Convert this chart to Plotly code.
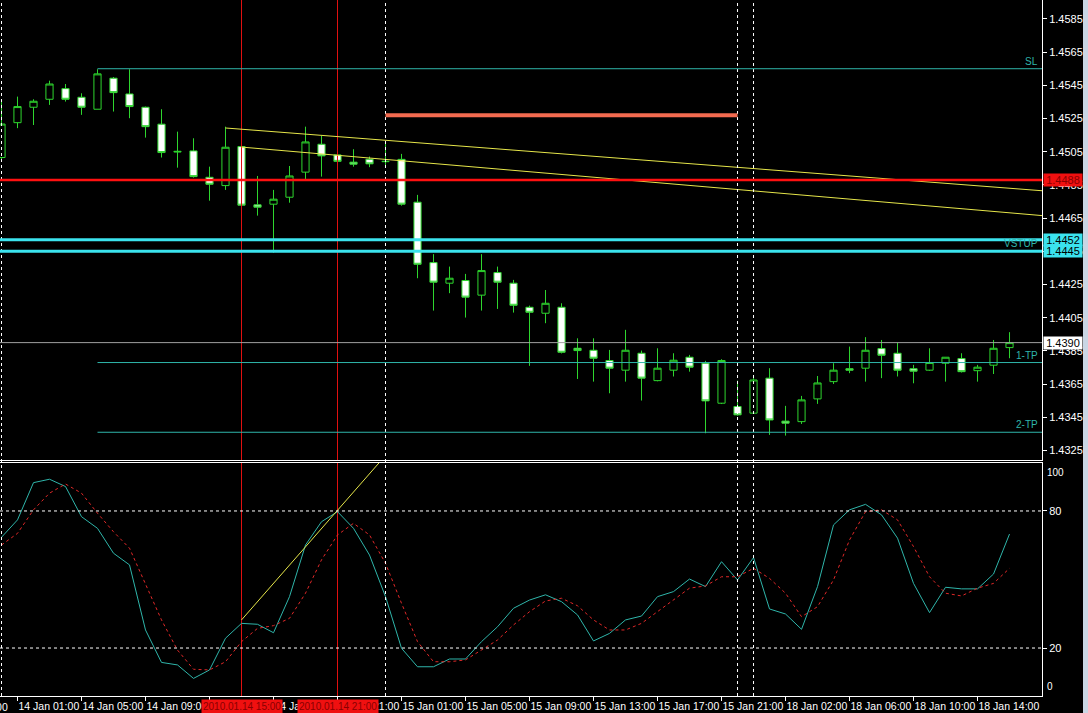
import plotly.graph_objects as go

# ---------------- data ----------------
times = ([f"14 Jan {h:02d}:00" for h in range(24)] +
         [f"15 Jan {h:02d}:00" for h in range(22)] +
         ["17 Jan 23:00"] +
         [f"18 Jan {h:02d}:00" for h in range(17)])

opens = [1.45015, 1.45225, 1.45318, 1.45366, 1.45430, 1.45378, 1.45306, 1.45493, 1.45398, 1.45318,
         1.45216, 1.45048, 1.45055, 1.44896, 1.44846, 1.45081, 1.44730, 1.44734, 1.44776, 1.44927,
         1.45095, 1.45031, 1.44987, 1.45005, 1.44990, 1.45004, 1.44746, 1.44382, 1.44258, 1.44274,
         1.44186, 1.44322, 1.44258, 1.44113, 1.44077, 1.44113, 1.43866, 1.43854, 1.43792, 1.43734,
         1.43836, 1.43671, 1.43734, 1.43812, 1.43776, 1.43535, 1.43515, 1.43475, 1.43686, 1.43427,
         1.43424, 1.43561, 1.43665, 1.43743, 1.43746, 1.43864, 1.43836, 1.43743, 1.43734, 1.43776,
         1.43804, 1.43731, 1.43764, 1.43870]
highs = [1.45362, 1.45382, 1.45366, 1.45478, 1.45458, 1.45402, 1.45547, 1.45500, 1.45547, 1.45322,
         1.45306, 1.45171, 1.45131, 1.44960, 1.45201, 1.45085, 1.44904, 1.44820, 1.44964, 1.45201,
         1.45145, 1.45035, 1.45065, 1.45021, 1.45111, 1.45037, 1.44790, 1.44433, 1.44358, 1.44314,
         1.44433, 1.44358, 1.44278, 1.44123, 1.44217, 1.44137, 1.43926, 1.43926, 1.43856, 1.43977,
         1.43852, 1.43866, 1.43836, 1.43826, 1.43790, 1.43800, 1.43671, 1.43705, 1.43746, 1.43519,
         1.43579, 1.43699, 1.43776, 1.43876, 1.43933, 1.43916, 1.43900, 1.43766, 1.43866, 1.43812,
         1.43836, 1.43766, 1.43916, 1.43963]
lows = [1.45000, 1.45192, 1.45211, 1.45332, 1.45352, 1.45272, 1.45306, 1.45292, 1.45252, 1.45135,
        1.45015, 1.44954, 1.44894, 1.44755, 1.44820, 1.44725, 1.44665, 1.44442, 1.44743, 1.44884,
        1.44900, 1.44990, 1.44960, 1.44957, 1.44970, 1.44725, 1.44288, 1.44093, 1.44198, 1.44051,
        1.44093, 1.44103, 1.44081, 1.43760, 1.44017, 1.43835, 1.43681, 1.43665, 1.43595, 1.43665,
        1.43551, 1.43667, 1.43696, 1.43725, 1.43354, 1.43530, 1.43460, 1.43470, 1.43344, 1.43340,
        1.43410, 1.43531, 1.43651, 1.43716, 1.43665, 1.43686, 1.43696, 1.43655, 1.43730, 1.43665,
        1.43720, 1.43665, 1.43711, 1.43806]
closes = [1.45217, 1.45322, 1.45354, 1.45458, 1.45366, 1.45318, 1.45519, 1.45406, 1.45322, 1.45201,
          1.45045, 1.45052, 1.44900, 1.44854, 1.45077, 1.44728, 1.44716, 1.44764, 1.44904, 1.45109,
          1.45025, 1.44992, 1.44975, 1.44977, 1.44992, 1.44734, 1.44372, 1.44264, 1.44288, 1.44174,
          1.44334, 1.44264, 1.44125, 1.44083, 1.44137, 1.43842, 1.43852, 1.43806, 1.43746, 1.43854,
          1.43686, 1.43746, 1.43794, 1.43752, 1.43549, 1.43792, 1.43465, 1.43675, 1.43434, 1.43415,
          1.43555, 1.43657, 1.43734, 1.43734, 1.43854, 1.43824, 1.43734, 1.43728, 1.43780, 1.43812,
          1.43725, 1.43752, 1.43866, 1.43900]

stoch_main = [68.5, 76.1, 92.4, 93.9, 90.7, 77.5, 72.4, 61.5, 56.4, 27.9,
              13.7, 12.6, 6.7, 10.4, 24.3, 30.8, 30.4, 26.7, 42.5, 65.1,
              75.3, 79.7, 72.4, 60.7, 42.5, 19.9, 11.8, 11.8, 15.2, 15.2,
              22.8, 29.3, 37.4, 41.0, 43.3, 40.3, 34.5, 23.1, 26.4, 32.3,
              34.0, 42.5, 44.7, 50.2, 46.9, 57.8, 49.8, 59.6, 37.1, 34.9,
              28.2, 46.9, 73.9, 80.5, 82.9, 78.3, 68.1, 48.3, 35.5, 46.6,
              45.9, 45.9, 52.4, 69.9]
stoch_signal = [65.1, 70.2, 80.5, 87.8, 91.8, 87.8, 79.0, 70.9, 63.7, 48.3,
                32.3, 19.1, 10.7, 10.4, 14.0, 22.8, 28.6, 29.8, 33.0, 44.0,
                58.6, 69.5, 74.6, 69.5, 57.1, 39.6, 22.8, 14.0, 14.0, 14.8,
                19.1, 23.5, 30.1, 35.9, 40.6, 41.8, 38.5, 32.3, 27.9, 27.9,
                30.8, 35.9, 41.0, 46.2, 47.2, 51.2, 51.2, 54.9, 50.5, 44.0,
                33.7, 38.1, 49.8, 67.3, 79.7, 80.5, 76.1, 64.4, 51.2, 44.0,
                42.8, 46.2, 48.3, 54.9]

price_ticks = [1.4585, 1.4565, 1.4545, 1.4525, 1.4505, 1.4485, 1.4465,
               1.4445, 1.4425, 1.4405, 1.4385, 1.4365, 1.4345, 1.4325]
stoch_levels = [20, 80]

# horizontal objects
sl_price, tp1_price, tp2_price = 1.4555, 1.4378, 1.4336
red_level = 1.4488
cyan_levels = [1.4452, 1.4445]
bid_price = 1.4390
orange_level = 1.4527
orange_span = ["15 Jan 00:00", "17 Jan 23:00"]
level_start = "14 Jan 06:00"
# trendlines (two anchors each, extended as rays)
trend_upper = [("14 Jan 14:00", 1.45193), ("18 Jan 16:00", 1.44830)]
trend_lower = [("14 Jan 15:00", 1.45078), ("18 Jan 16:00", 1.44682)]
stoch_trend = [("14 Jan 15:00", 32.3), ("14 Jan 21:00", 80.3)]
red_vlines = ["14 Jan 15:00", "14 Jan 21:00"]
red_vline_labels = ["2010.01.14 15:00", "2010.01.14 21:00"]
separators = ["14 Jan 00:00", "15 Jan 00:00", "17 Jan 23:00", "18 Jan 00:00"]
prev_label = "13 Jan 21:00"   # label of the bar 3 hours before the first bar (cut off at left)
prev_label_offset = -3        # bars before the first bar

# ---------------- figure ----------------
xpos = list(range(len(times)))
idx = {t: i for i, t in enumerate(times)}
X_MIN, X_MAX = -0.094, 65.03

GREEN = "#2ED62E"
TEAL = "#2FB5AA"
VRED = "#E01010"
FONT = "Liberation Sans"
TFONT = 10.5

fig = go.Figure()

# red vertical lines drawn as traces in both panels
for t in red_vlines:
    fig.add_trace(go.Scatter(x=[idx[t], idx[t]], y=[1.40, 1.50], mode="lines",
                             line=dict(color=VRED, width=1), xaxis="x", yaxis="y",
                             showlegend=False, hoverinfo="skip"))
    fig.add_trace(go.Scatter(x=[idx[t], idx[t]], y=[-10, 110], mode="lines",
                             line=dict(color=VRED, width=1), xaxis="x2", yaxis="y2",
                             showlegend=False, hoverinfo="skip"))

fig.add_trace(go.Candlestick(
    x=xpos, open=opens, high=highs, low=lows, close=closes,
    increasing=dict(line=dict(color=GREEN, width=1), fillcolor="black"),
    decreasing=dict(line=dict(color=GREEN, width=1), fillcolor="white"),
    whiskerwidth=0, xaxis="x", yaxis="y", showlegend=False, hoverinfo="skip"))


def ray(p0, p1, x_end):
    x0, y0 = idx[p0[0]], p0[1]
    x1, y1 = idx[p1[0]], p1[1]
    slope = (y1 - y0) / (x1 - x0)
    return [x0, x_end], [y0, y0 + slope * (x_end - x0)]


for tr in (trend_upper, trend_lower):
    xs, ys = ray(tr[0], tr[1], X_MAX + 1)
    fig.add_trace(go.Scatter(x=xs, y=ys, mode="lines", line=dict(color="#E6E64A", width=1),
                             xaxis="x", yaxis="y", showlegend=False, hoverinfo="skip"))

fig.add_trace(go.Scatter(x=xpos, y=stoch_main, mode="lines", line=dict(color=TEAL, width=1),
                         xaxis="x2", yaxis="y2", showlegend=False, hoverinfo="skip"))
fig.add_trace(go.Scatter(x=xpos, y=stoch_signal, mode="lines",
                         line=dict(color="#E02828", width=1, dash="3px,3px"),
                         xaxis="x2", yaxis="y2", showlegend=False, hoverinfo="skip"))
xs, ys = ray(stoch_trend[0], stoch_trend[1], idx[stoch_trend[0][0]] + 12)
fig.add_trace(go.Scatter(x=xs, y=ys, mode="lines", line=dict(color="#E6E64A", width=1),
                         xaxis="x2", yaxis="y2", showlegend=False, hoverinfo="skip"))

shapes = []
# separators
for t in separators:
    shapes.append(dict(type="line", xref="x", yref="paper", x0=idx[t], x1=idx[t], y0=0, y1=1,
                       line=dict(color="white", width=1, dash="3px,3px")))
# stochastic levels
for lv in stoch_levels:
    shapes.append(dict(type="line", xref="paper", yref="y2", x0=0, x1=1, y0=lv, y1=lv,
                       line=dict(color="white", width=1, dash="3px,3px")))
# teal SL / TP lines
for p in (sl_price, tp1_price, tp2_price):
    shapes.append(dict(type="line", xref="x", yref="y", x0=idx[level_start], x1=X_MAX + 2, y0=p, y1=p,
                       line=dict(color=TEAL, width=1)))
# bid line
shapes.append(dict(type="line", xref="paper", yref="y", x0=0, x1=1, y0=bid_price, y1=bid_price,
                   line=dict(color="#A0A0A0", width=1)))
# red level
shapes.append(dict(type="line", xref="paper", yref="y", x0=0, x1=1, y0=red_level, y1=red_level,
                   line=dict(color="#FF1010", width=2.5)))
# cyan levels
for p in cyan_levels:
    shapes.append(dict(type="line", xref="paper", yref="y", x0=0, x1=1, y0=p, y1=p,
                       line=dict(color="#3BE3EE", width=3)))
# orange segment
shapes.append(dict(type="line", xref="x", yref="y", x0=idx[orange_span[0]], x1=idx[orange_span[1]],
                   y0=orange_level, y1=orange_level, line=dict(color="#F26A4F", width=4)))
# right light strip
shapes.append(dict(type="rect", xref="paper", yref="paper", x0=1083 / 1042, x1=1.06,
                   y0=-0.03, y1=1.01, line=dict(width=0), fillcolor="#C9D6E4"))

annotations = []
# price axis labels
for txt, p, bg, fg in [("1.4598", 1.45983, "white", "black"),
                       ("1.4488", red_level, "#F01010", "#8A0000"),
                       ("1.4452", cyan_levels[0], "#3BE3EE", "black"),
                       ("1.4445", cyan_levels[1], "#3BE3EE", "black"),
                       ("1.4390", bid_price, "white", "black")]:
    annotations.append(dict(text=txt, xref="paper", yref="y", x=1.0, y=p, xanchor="left",
                            yanchor="middle", xshift=1, showarrow=False, bgcolor=bg,
                            font=dict(family=FONT, size=11, color=fg), borderpad=0, width=38,
                            height=12, align="center"))
# level names
for txt, p in [("SL", sl_price), ("VSTUP", cyan_levels[1]), ("1-TP", tp1_price), ("2-TP", tp2_price)]:
    annotations.append(dict(text=txt, xref="paper", yref="y", x=1.0, y=p, xanchor="right",
                            yanchor="bottom", xshift=-2, yshift=0, showarrow=False,
                            font=dict(family=FONT, size=10, color=TEAL)))
# stochastic 100 / 0 labels
annotations.append(dict(text="100", xref="paper", yref="y2", x=1.0, y=100, xanchor="left",
                        yanchor="top", xshift=3, showarrow=False,
                        font=dict(family=FONT, size=10, color="white")))
annotations.append(dict(text="0", xref="paper", yref="y2", x=1.0, y=0, xanchor="left",
                        yanchor="bottom", xshift=3, showarrow=False,
                        font=dict(family=FONT, size=10, color="white")))
# partially visible time label at the far left (converted to paper fraction of the x range)
prev_paper = (idx[times[0]] + prev_label_offset - X_MIN) / (X_MAX - X_MIN)
annotations.append(dict(text=prev_label, xref="paper", yref="paper", x=prev_paper, y=0,
                        xanchor="left", yanchor="top", xshift=-9, yshift=-3, showarrow=False,
                        font=dict(family=FONT, size=TFONT, color="white")))
# red time labels
for t, txt in zip(red_vlines, red_vline_labels):
    annotations.append(dict(text=txt, xref="x2", yref="paper", x=idx[t], y=0, xanchor="center",
                            yanchor="top", yshift=-3, showarrow=False, bgcolor="#F01010",
                            font=dict(family=FONT, size=10, color="#8A0000"), borderpad=1))

tick_idx = list(range(1, len(times), 4))

fig.update_layout(
    width=1088, height=713,
    margin=dict(l=0, r=46, t=0, b=17, autoexpand=False),
    paper_bgcolor="black", plot_bgcolor="black",
    font=dict(family=FONT, size=10, color="white"),
    boxgap=0.36,
    shapes=shapes, annotations=annotations,
    xaxis=dict(domain=[0, 1], anchor="y", range=[X_MIN, X_MAX], showgrid=False, zeroline=False,
               showticklabels=False, ticks="", showline=True, linecolor="white", linewidth=1,
               rangeslider=dict(visible=False), matches="x2", automargin=False),
    yaxis=dict(domain=[0.3391, 1], anchor="x", side="right", range=[1.43193, 1.45964],
               showgrid=False, zeroline=False, tickvals=price_ticks, automargin=False,
               ticktext=[f"{v:.4f}" for v in price_ticks], ticks="outside", ticklen=4,
               tickcolor="white", showline=True, linecolor="white", linewidth=1,
               tickfont=dict(family=FONT, size=11, color="white")),
    xaxis2=dict(domain=[0, 1], anchor="y2", range=[X_MIN, X_MAX], showgrid=False, zeroline=False,
                tickvals=tick_idx, ticktext=[times[i] for i in tick_idx], ticks="outside",
                ticklen=4, tickcolor="white", ticklabelposition="outside right", tickangle=0,
                showline=True, linecolor="white", linewidth=1, mirror=True, automargin=False,
                tickfont=dict(family=FONT, size=TFONT, color="white")),
    yaxis2=dict(domain=[0, 0.33477], anchor="x2", side="right", range=[-1.0, 101.0],
                showgrid=False, zeroline=False, tickvals=stoch_levels, automargin=False,
                ticktext=[str(v) for v in stoch_levels], ticks="outside", ticklen=4,
                tickcolor="white", showline=True, linecolor="white", linewidth=1,
                tickfont=dict(family=FONT, size=11, color="white")),
)

fig.write_html("out.html", config={"displayModeBar": False},
               post_script="document.body.style.margin='0';document.body.style.background='black';")
